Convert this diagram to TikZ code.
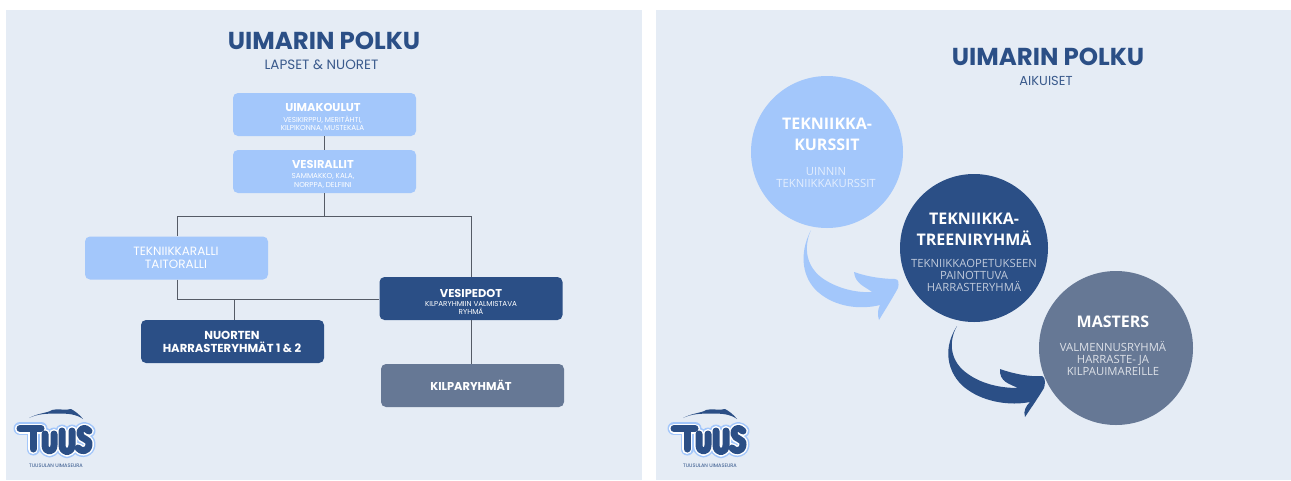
\documentclass[tikz,border=0pt]{standalone}
\usepackage{fontspec}
\setmainfont{Poppins}
\newfontfamily\opensans{Open Sans}
\definecolor{panel}{HTML}{E5ECF5}
\definecolor{lightb}{HTML}{A3C7FB}
\definecolor{darkb}{HTML}{2B4F86}
\definecolor{greyb}{HTML}{667895}
\definecolor{linec}{HTML}{555B66}
\definecolor{subtxt}{HTML}{3A5A8C}
\tikzset{
  panelbox/.style={fill=panel,draw=none},
  flowbox/.style={rounded corners=5pt,minimum width=183pt,minimum height=43pt,inner sep=0pt,align=center,text=white,draw=none},
  lightbox/.style={flowbox,fill=lightb},
  darkbox/.style={flowbox,fill=darkb},
  greybox/.style={flowbox,fill=greyb},
  conn/.style={draw=linec,line width=0.8pt},
  bubble/.style={circle,inner sep=0pt,draw=none},
  titletext/.style={text=darkb,font=\fontsize{24.5}{28}\selectfont\bfseries,inner sep=0pt},
  subtext/.style={text=subtxt,font=\fontsize{13.5}{16}\selectfont,inner sep=0pt},
  boxhead/.style={text=white,inner sep=0pt,align=center,font=\fontsize{11.4}{14}\selectfont\bfseries},
  boxsmall/.style={text=white,inner sep=0pt,align=center,font=\fontsize{7.2}{8.6}\selectfont},
  ctitle/.style={font=\opensans\fontsize{16}{21}\selectfont\bfseries,text=white,align=center,inner sep=0pt},
  cbody/.style={font=\opensans\fontsize{11.3}{12}\selectfont,align=center,inner sep=0pt},
  logostroke/.style={line cap=round,line join=round},
  pics/tuuslogo/.style={code={
    \foreach \wd/\col in {13pt/lightb,10pt/white,7pt/darkb}{
      \draw[logostroke,line width=\wd,draw=\col] (20,428.5) -- (41,428.5) (33,429) -- (33,449);
      \draw[logostroke,line width=\wd,draw=\col] (45,434) -- (45,445) .. controls (45,453) and (54,453) .. (54,445) -- (54,434);
      \draw[logostroke,line width=\wd,draw=\col] (62,431) -- (62,445) .. controls (62,454) and (72,454) .. (72,445) -- (72,431);
      \draw[logostroke,line width=\wd,draw=\col] (89,431) .. controls (85,426) and (79,429) .. (80,434) .. controls (81,440) and (90,438) .. (89,445) .. controls (88,452) and (81,452) .. (78,448);
    }
    \fill[darkb] (29,418) .. controls (38,413) and (48,413) .. (52,410) .. controls (58,408) and (65,411) .. (71,409) .. controls (75,411) and (80,415) .. (83,419) .. controls (76,414) and (68,413.5) .. (58,413.5) .. controls (46,413.5) and (37,414) .. (29,418) -- cycle;
    \node[inner sep=0pt,text=darkb,font=\fontsize{5}{6}\selectfont] (-cap) at (56,465.5) {TUUSULAN UIMASEURA};
  }}
}
\begin{document}
\begin{tikzpicture}[x=1pt,y=-1pt]
\useasboundingbox (0,0) rectangle (1291,480);
\fill[white] (0,0) rectangle (1291,480);
\fill[panelbox] (6,10) rectangle (642,480);
\fill[panelbox] (656,10) rectangle (1291,480);

% left panel
\node[titletext] (t1) at (324,40.5) {UIMARIN POLKU};
\node[subtext] (s1) at (321.5,64.5) {LAPSET \& NUORET};

\node[lightbox] (uk) at (324.5,114.5) {};
\node[boxhead] (ukt) at (323,107) {UIMAKOULUT};
\node[boxsmall] (uks) at (322.5,124) {VESIKIRPPU, MERITÄHTI,\\KILPIKONNA, MUSTEKALA};

\node[lightbox] (vr) at (324.5,171.5) {};
\node[boxhead] (vrt) at (323,164) {VESIRALLIT};
\node[boxsmall] (vrs) at (323,181) {SAMMAKKO, KALA,\\NORPPA, DELFIINI};

\node[lightbox] (tk) at (176.5,258) {};
\node[boxhead,font=\fontsize{12}{13}\selectfont] (tkt) at (176,258) {TEKNIIKKARALLI\\TAITORALLI};

\node[darkbox] (vp) at (471,298.5) {};
\node[boxhead] (vpt) at (471,293) {VESIPEDOT};
\node[boxsmall] (vps) at (471,308) {KILPARYHMIIN VALMISTAVA\\RYHMÄ};

\node[darkbox] (nh) at (232.5,341.5) {};
\node[boxhead,font=\fontsize{11.6}{13}\selectfont\bfseries] (nht) at (232,341.5) {NUORTEN\\HARRASTERYHMÄT 1 \& 2};

\node[greybox] (kr) at (472.5,385.5) {};
\node[boxhead] (krt) at (471,385.5) {KILPARYHMÄT};

\coordinate (jm) at (324.5,216);
\coordinate (jl) at (177,216);
\coordinate (jr) at (471.5,216);
\coordinate (kl) at (177,299);
\coordinate (kn) at (234,299);
\draw[conn] (uk.south) -- (vr.north);
\draw[conn] (vr.south) -- (jm);
\draw[conn] (jl) -- (jr);
\draw[conn] (jl) -- (jl |- tk.north);
\draw[conn] (jr) -- (jr |- vp.north);
\draw[conn] (kl |- tk.south) -- (kl) -- (kl -| vp.west);
\draw[conn] (kn) -- (kn |- nh.north);
\draw[conn] (jr |- vp.south) -- (jr |- kr.north);

\pic (logoa) at (0,0) {tuuslogo};

% right panel
\node[titletext] (t2) at (1048,56.5) {UIMARIN POLKU};
\node[subtext,font=\fontsize{13}{15}\selectfont] (s2) at (1046,80.5) {AIKUISET};

\node[bubble,fill=lightb,minimum size=152pt] (c1) at (827,152) {};
\node[ctitle] (c1t) at (827,134) {TEKNIIKKA-\\KURSSIT};
\node[cbody,text=white!70!lightb] (c1b) at (826,178) {UINNIN\\TEKNIIKKAKURSSIT};

\node[bubble,fill=darkb,minimum size=148pt] (c2) at (974,248) {};
\node[ctitle] (c2t) at (974,229) {TEKNIIKKA-\\TREENIRYHMÄ};
\node[cbody,text=white!70!darkb] (c2b) at (974,275) {TEKNIIKKAOPETUKSEEN\\PAINOTTUVA\\HARRASTERYHMÄ};

\node[bubble,fill=greyb,minimum size=154pt] (c3) at (1116,348) {};
\node[ctitle] (c3t) at (1113,322) {MASTERS};
\node[cbody,text=white!78!greyb] (c3b) at (1113,359) {VALMENNUSRYHMÄ\\HARRASTE- JA\\KILPAUIMAREILLE};

% curved arrows
\fill[lightb] (811,230) .. controls (803,248) and (806,268) .. (825,280) .. controls (838,288) and (855,293) .. (872,292)
  .. controls (866,287) and (855,284) .. (854,272) .. controls (868,277) and (884,279) .. (895,279)
  .. controls (899,279) and (899,284) .. (898,288) .. controls (892,299) and (885,310) .. (879,320)
  .. controls (877,314) and (878,309) .. (880,305) .. controls (860,310) and (835,307) .. (818,292)
  .. controls (803,279) and (798,255) .. (811,230) -- cycle;
\fill[darkb] (957,326) .. controls (948,342) and (950,362) .. (968,374) .. controls (982,384) and (1000,388) .. (1018,388)
  .. controls (1010,384) and (999,382) .. (1000,369) .. controls (1014,374) and (1030,377) .. (1042,376)
  .. controls (1046,377) and (1045,385) .. (1044,388) .. controls (1038,398) and (1031,408) .. (1025,417)
  .. controls (1023,411) and (1026,406) .. (1030,402) .. controls (1010,406) and (985,402) .. (968,390)
  .. controls (950,378) and (940,352) .. (957,326) -- cycle;

\pic (logob) at (654,0) {tuuslogo};
\end{tikzpicture}
\end{document}
